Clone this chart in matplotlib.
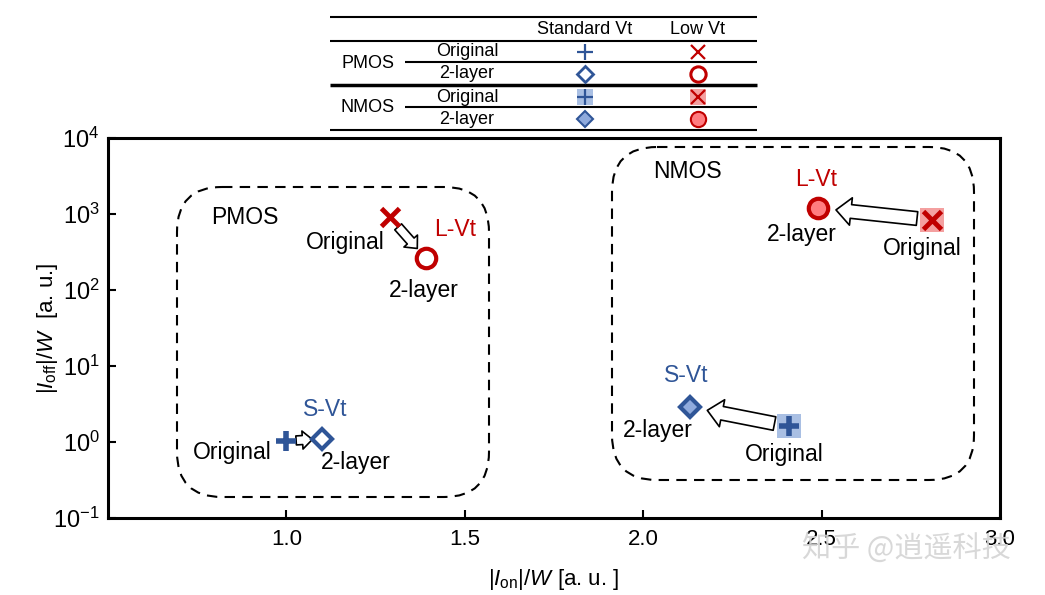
import matplotlib
matplotlib.use("Agg")
import matplotlib.pyplot as plt
from matplotlib.patches import FancyBboxPatch, FancyArrowPatch

# ---------------- data ----------------
groups = ["PMOS S-Vt", "PMOS L-Vt", "NMOS S-Vt", "NMOS L-Vt"]
orig_ion = [1.00, 1.29, 2.41, 2.81]
orig_ioff = [1.03, 900.0, 1.6, 830.0]
new_ion = [1.10, 1.39, 2.13, 2.49]
new_ioff = [1.1, 265.0, 2.9, 1200.0]
xticks = [1.0, 1.5, 2.0, 2.5, 3.0]
xtick_labels = ["1.0", "1.5", "2.0", "2.5", "3.0"]

RED = "#C00000"
BLUE = "#2F5597"
LRED = "#F4A0A0"
LBLUE = "#A9BFE3"
CFILL = "#FF7C80"
DFILL = "#8FAADC"

plt.rcParams["font.family"] = ["Liberation Sans", "DejaVu Sans"]
plt.rcParams["mathtext.fontset"] = "custom"
plt.rcParams["mathtext.rm"] = "Liberation Sans"
plt.rcParams["mathtext.it"] = "Liberation Sans:italic"
plt.rcParams["axes.unicode_minus"] = False

fig = plt.figure(figsize=(10.45, 5.95), dpi=100)
W, H = 1045, 595
ax = fig.add_axes([108 / W, 1 - 518 / H, (1000 - 108) / W, (518 - 138) / H])
ax.set_xlim(0.5, 3.0)
ax.set_yscale("log")
ax.set_ylim(0.1, 1e4)
ax.set_xticks(xticks)
ax.set_xticklabels(xtick_labels, fontsize=16)
ax.minorticks_off()
ax.tick_params(direction="in", length=6, width=1.5)
ax.tick_params(axis="y", labelsize=17, pad=6)
ax.tick_params(axis="x", pad=8)
for s in ax.spines.values():
    s.set_linewidth(2.2)
ax.set_xlabel(r"|$\mathit{I}_{\mathrm{on}}$|/$\mathit{W}$ [a. u. ]", fontsize=16, labelpad=12)
ax.set_ylabel(r"|$\mathit{I}_{\mathrm{off}}$|/$\mathit{W}$  [a. u.]", fontsize=16)
ax.yaxis.set_label_coords(-0.054, 0.5)

# markers
# PMOS S-Vt
ax.plot(orig_ion[0], orig_ioff[0], marker="+", ms=15, mew=4, color=BLUE, ls="none", zorder=5)
ax.plot(new_ion[0], new_ioff[0], marker="D", ms=10, mew=3, mfc="white", mec=BLUE, ls="none", zorder=5)
# PMOS L-Vt
ax.plot(orig_ion[1], orig_ioff[1], marker="x", ms=13, mew=3.5, color=RED, ls="none", zorder=5)
ax.plot(new_ion[1], new_ioff[1], marker="o", ms=14, mew=3, mfc="white", mec=RED, ls="none", zorder=5)
# NMOS S-Vt
ax.plot(orig_ion[2], orig_ioff[2], marker="s", ms=17, mew=0, color=LBLUE, ls="none", zorder=4)
ax.plot(orig_ion[2], orig_ioff[2], marker="+", ms=15, mew=4, color=BLUE, ls="none", zorder=5)
ax.plot(new_ion[2], new_ioff[2], marker="D", ms=10, mew=3, mfc=DFILL, mec=BLUE, ls="none", zorder=5)
# NMOS L-Vt
ax.plot(orig_ion[3], orig_ioff[3], marker="s", ms=17, mew=0, color=LRED, ls="none", zorder=4)
ax.plot(orig_ion[3], orig_ioff[3], marker="x", ms=13, mew=3.5, color=RED, ls="none", zorder=5)
ax.plot(new_ion[3], new_ioff[3], marker="o", ms=14, mew=3, mfc=CFILL, mec=RED, ls="none", zorder=5)

# arrows
arrow_cfg = [
    (0, 7, 7, 13, "simple,head_length=0.55,head_width=1.0,tail_width=0.5"),
    (1, 9, 9, 13, "simple,head_length=0.55,head_width=1.0,tail_width=0.5"),
    (2, 11, 13, 18, "simple,head_length=0.6,head_width=1.1,tail_width=0.55"),
    (3, 11, 13, 18, "simple,head_length=0.6,head_width=1.1,tail_width=0.55"),
]
for i, sa, sb, ms_, st in arrow_cfg:
    arr = FancyArrowPatch((orig_ion[i], orig_ioff[i]), (new_ion[i], new_ioff[i]),
                          arrowstyle=st, mutation_scale=ms_, shrinkA=sa, shrinkB=sb,
                          fc="white", ec="black", lw=1.2, zorder=3)
    ax.add_patch(arr)

# overlay in pixel coordinates
ov = fig.add_axes([0, 0, 1, 1], zorder=10)
ov.set_xlim(0, W)
ov.set_ylim(H, 0)
ov.axis("off")
ov.patch.set_alpha(0)

for (x0, y0, x1, y1) in [(177, 187, 489, 497), (612, 147, 974, 480)]:
    box = FancyBboxPatch((x0, y0), x1 - x0, y1 - y0,
                         boxstyle="round,pad=0,rounding_size=45",
                         fill=False, ec="black", lw=1.5, ls=(0, (5, 3.5)))
    ov.add_patch(box)

fs = 16.5
def t(x, y, s, c="black", **kw):
    ov.text(x, y, s, color=c, fontsize=kw.pop("fontsize", fs), ha=kw.pop("ha", "center"),
            va="center", **kw)

t(245, 218, "PMOS")
t(687, 172, "NMOS")
t(345, 242, "Original")
t(455, 230, "L-Vt", RED)
t(424, 291, "2-layer")
t(325, 409, "S-Vt", BLUE)
t(232, 453, "Original")
t(356, 463, "2-layer")
t(686, 376, "S-Vt", BLUE)
t(658, 431, "2-layer")
t(784, 455, "Original")
t(816, 179, "L-Vt", RED)
t(802, 235, "2-layer")
t(922, 248, "Original")

# legend table
lw_t = 1.5
for y, x0, lw in [(17, 330, lw_t), (41, 330, lw_t), (62, 405, lw_t), (85, 330, 2.5),
                  (107, 405, lw_t), (130, 330, lw_t)]:
    ov.plot([x0, 757], [y, y], color="black", lw=lw, solid_capstyle="butt")
tf = 13
t(585, 29, "Standard Vt", fontsize=tf)
t(698, 29, "Low Vt", fontsize=tf)
t(368, 63, "PMOS", fontsize=tf)
t(368, 108, "NMOS", fontsize=tf)
t(467, 52, "Original", fontsize=tf)
t(467, 74, "2-layer", fontsize=tf)
t(467, 97, "Original", fontsize=tf)
t(467, 119, "2-layer", fontsize=tf)
ov.plot(585, 52, marker="+", ms=12, mew=1.6, color=BLUE)
ov.plot(698, 52, marker="x", ms=10, mew=1.6, color=RED)
ov.plot(585, 74, marker="D", ms=8, mew=2, mfc="white", mec=BLUE)
ov.plot(698, 74, marker="o", ms=11, mew=2.2, mfc="white", mec=RED)
ov.plot(585, 97, marker="s", ms=12, mew=0, color=LBLUE)
ov.plot(585, 97, marker="+", ms=12, mew=1.6, color=BLUE)
ov.plot(698, 97, marker="s", ms=12, mew=0, color=LRED)
ov.plot(698, 97, marker="x", ms=10, mew=1.6, color=RED)
ov.plot(585, 119, marker="D", ms=8, mew=1.5, mfc=DFILL, mec=BLUE)
ov.plot(698, 119, marker="o", ms=11, mew=1.5, mfc=CFILL, mec=RED)

# watermark
ov.text(906, 550, "知乎 @逍遥科技", fontsize=21, color="#d4d4d4", ha="center", va="center",
        family=["Noto Sans CJK SC", "DejaVu Sans"], alpha=0.9)

fig.savefig("out.png", dpi=100)
